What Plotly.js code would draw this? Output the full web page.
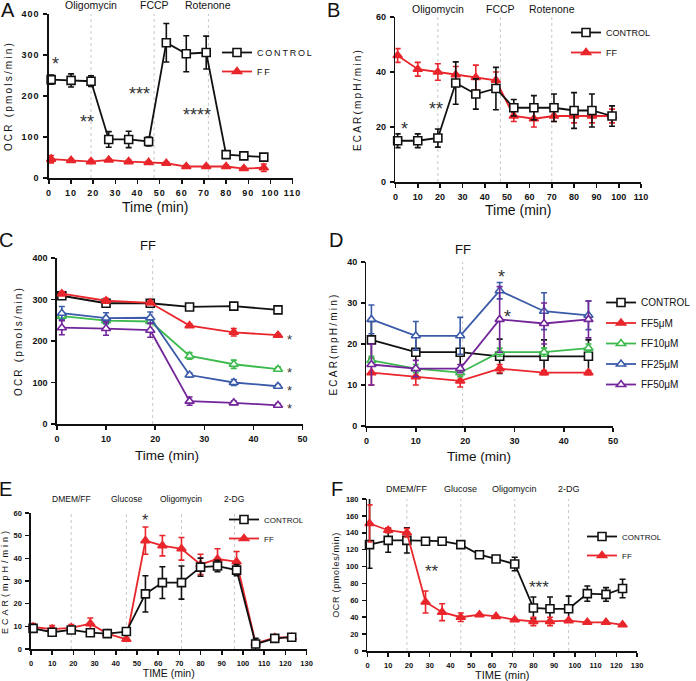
<!DOCTYPE html>
<html><head><meta charset="utf-8">
<script src="https://cdn.plot.ly/plotly-3.0.1.min.js"></script>
<style>
body{margin:0;padding:0;background:#fff}
#chart{width:696px;height:681px}
.subplot .xtick text, .subplot .ytick text{letter-spacing:1px}
.ytitle,.y2title,.y3title,.y4title{letter-spacing:2.2px}
.y5title{letter-spacing:3px}
.y6title{letter-spacing:0.7px}
.legend .legendtext,.legend2 .legendtext{letter-spacing:1.8px}
.legend4 .legendtext{letter-spacing:1px}
.infolayer g, .infolayer g *{clip-path:none !important}
</style></head>
<body><div id="chart"></div>
<script>
// ---------- DATA ----------
// Panel A: OCR mito stress
const timeA = [1,10,19,27,36,45,53,62,71,80,88,97];
const ocrA_ctrl = [240,238,236,94,94,89,330,303,306,57,54,51];
const ocrA_ctrl_err = [11,16,13,19,20,11,47,44,40,8,3,4];
const ocrA_ff = [46,43,40,44,40,38,36,28,28,28,23,25];
const ocrA_ff_err = [9,3,3,3,3,3,3,3,3,3,3,9];
const injA = [19,47.5,72];
const drugsA = ['Oligomycin','FCCP','Rotenone'];
// Panel B: ECAR mito stress
const timeB = [1,10,19,27,36,45,53,62,71,80,88,97];
const ecarB_ctrl = [15,15,16,36,32,34,27,27,27,26,26,24];
const ecarB_ctrl_err = [2.5,2.5,3.3,7.7,5.5,7.7,3,4.4,5,6.5,6,3.7];
const ecarB_ff = [46,41,40,39,38,37,24,23,24,24,24,24];
const ecarB_ff_err = [2.5,2.5,3,3,4.5,3,2,3,2,2.5,2.5,2.5];
const injB = [19,47,70];
// Panel C: OCR dose response
const timeC = [1,10,19,27,36,45];
const ocrC_ctrl = [309,291,291,282,284,275];
const ocrC_ctrl_err = [5,5,5,5,5,5];
const ocrC_ff5 = [314,297,292,237,221,214];
const ocrC_ff5_err = [5,6,4,4,9,3];
const ocrC_ff10 = [260,249,247,164,144,132];
const ocrC_ff10_err = [8,8,5,8,10,5];
const ocrC_ff25 = [267,255,256,118,100,91];
const ocrC_ff25_err = [16,13,14,5,7,4];
const ocrC_ff50 = [232,230,226,55,51,45];
const ocrC_ff50_err = [17,16,17,10,4,4];
const injC = [19.5];
// Panel D: ECAR dose response
const timeD = [1,10,19,27,36,45];
const ecarD_ctrl = [21,18,18,17,17,17];
const ecarD_ctrl_err = [4.5,4,4,4.2,4,4];
const ecarD_ff5 = [13,12,11,14,13,13];
const ecarD_ff5_err = [3,2,1.5,1,0.5,0.5];
const ecarD_ff10 = [16,14,13,18,18,19];
const ecarD_ff10_err = [1,1,1,1,1,1];
const ecarD_ff25 = [26,22,22,33,28,27];
const ecarD_ff25_err = [3.5,3.5,4.5,2,4.5,3.5];
const ecarD_ff50 = [15,14,14,26,25,26];
const ecarD_ff50_err = [5,2,1,8,5,4.5];
const injD = [19.5];
const doseNames = ['CONTROL','FF5μM','FF10μM','FF25μM','FF50μM'];
// Panel E: ECAR glycolysis stress
const timeE = [1,10,19,28,36,45,54,62,71,80,88,97,106,115,123];
const ecarE_ctrl = [9.1,7.4,8.4,7.2,6.8,7.7,24.3,29.3,29.3,36.1,36.6,34.8,2.2,4.7,5.2];
const ecarE_ctrl_err = [1.5,1,1,1,0.5,1,8,7,7.3,4,2.5,2.5,2.5,0.5,0.5];
const ecarE_ff = [9.7,8.8,9.3,11.2,6.8,4.3,47.8,45.6,44.2,37.3,39.7,38.5,2.5,5,5.2];
const ecarE_ff_err = [1.5,1.5,1.5,2.5,0.5,0.5,6,4.5,5,4.5,4.5,4.5,1,0.5,0.5];
const injE = [19,45,71,96];
const drugsE = ['DMEM/FF','Glucose','Oligomycin','2-DG'];
// Panel F: OCR glycolysis stress
const timeF = [1,10,19,28,36,45,54,62,71,80,88,97,106,115,123];
const ocrF_ctrl = [126,131,131,130,130,126,114,109,103,51,50,50,68,67,74];
const ocrF_ctrl_errPlus = [62,14,15,2,2,4,2,2,8,13,14,15,9,8,11];
const ocrF_ctrl_errMinus = [28,14,15,2,2,4,2,2,8,13,14,15,9,8,11];
const ocrF_ff = [151,143,140,58,46,40,43,41,37,35,35,36,34,34,31];
const ocrF_ff_err = [22,3,5,13,10,5,1,1,1,5,5,1,1,1,1];
const injF = [19,45,71,97];

// ---------- STYLE ----------
const FONT = 'Liberation Sans, Arial, sans-serif';
const BLACK = '#111111', RED = '#e8262b', GREEN = '#3dba4e', BLUE = '#3b5ba9', PURPLE = '#73269a';
const W = 696, H = 681;
const px = x => x / W, py = y => 1 - y / H;

function tr(x, y, err, name, color, symbol, open, xa, ya, legend, show, rank, errMinus) {
  const e = {type:'data', array: err, color: color, thickness: 1.6, width: 3, visible: true};
  if (errMinus) { e.symmetric = false; e.arrayminus = errMinus; }
  return {
    type: 'scatter', mode: 'lines+markers', x: x, y: y, name: name,
    xaxis: xa, yaxis: ya, legend: legend, showlegend: show, legendgroup: name + xa, legendrank: rank,
    line: {color: color, width: 1.8},
    marker: {symbol: symbol, size: 8, color: open ? 'white' : color,
             line: {color: color, width: 1.6}},
    error_y: e, cliponaxis: false
  };
}

const data = [
  tr(timeA, ocrA_ctrl, ocrA_ctrl_err, 'CONTROL', BLACK, 'square', true, 'x', 'y', 'legend', true, 1),
  tr(timeA, ocrA_ff, ocrA_ff_err, 'FF', RED, 'triangle-up', false, 'x', 'y', 'legend', true, 2),
  tr(timeB, ecarB_ff, ecarB_ff_err, 'FF', RED, 'triangle-up', false, 'x2', 'y2', 'legend2', true, 2),
  tr(timeB, ecarB_ctrl, ecarB_ctrl_err, 'CONTROL', BLACK, 'square', true, 'x2', 'y2', 'legend2', true, 1),
  tr(timeC, ocrC_ctrl, ocrC_ctrl_err, doseNames[0], BLACK, 'square', true, 'x3', 'y3', 'legend', false, 10),
  tr(timeC, ocrC_ff5, ocrC_ff5_err, doseNames[1], RED, 'triangle-up', false, 'x3', 'y3', 'legend', false, 11),
  tr(timeC, ocrC_ff10, ocrC_ff10_err, doseNames[2], GREEN, 'triangle-up', true, 'x3', 'y3', 'legend', false, 12),
  tr(timeC, ocrC_ff25, ocrC_ff25_err, doseNames[3], BLUE, 'triangle-up', true, 'x3', 'y3', 'legend', false, 13),
  tr(timeC, ocrC_ff50, ocrC_ff50_err, doseNames[4], PURPLE, 'triangle-up', true, 'x3', 'y3', 'legend', false, 14),
  tr(timeD, ecarD_ctrl, ecarD_ctrl_err, doseNames[0], BLACK, 'square', true, 'x4', 'y4', 'legend3', true, 1),
  tr(timeD, ecarD_ff5, ecarD_ff5_err, doseNames[1], RED, 'triangle-up', false, 'x4', 'y4', 'legend3', true, 2),
  tr(timeD, ecarD_ff10, ecarD_ff10_err, doseNames[2], GREEN, 'triangle-up', true, 'x4', 'y4', 'legend3', true, 3),
  tr(timeD, ecarD_ff25, ecarD_ff25_err, doseNames[3], BLUE, 'triangle-up', true, 'x4', 'y4', 'legend3', true, 4),
  tr(timeD, ecarD_ff50, ecarD_ff50_err, doseNames[4], PURPLE, 'triangle-up', true, 'x4', 'y4', 'legend3', true, 5),
  tr(timeE, ecarE_ff, ecarE_ff_err, 'FF', RED, 'triangle-up', false, 'x5', 'y5', 'legend4', true, 2),
  tr(timeE, ecarE_ctrl, ecarE_ctrl_err, 'CONTROL', BLACK, 'square', true, 'x5', 'y5', 'legend4', true, 1),
  tr(timeF, ocrF_ctrl, ocrF_ctrl_errPlus, 'CONTROL', BLACK, 'square', true, 'x6', 'y6', 'legend5', true, 1, ocrF_ctrl_errMinus),
  tr(timeF, ocrF_ff, ocrF_ff_err, 'FF', RED, 'triangle-up', false, 'x6', 'y6', 'legend5', true, 2)
];

function axis(dom, range, dtick, anchor, fs, title, tfs, standoff) {
  const a = {
    domain: dom, range: range, dtick: dtick, tick0: 0, anchor: anchor,
    showline: true, linecolor: BLACK, linewidth: 1.5, mirror: false,
    ticks: 'outside', ticklen: 4, tickwidth: 1.5, tickcolor: BLACK,
    showgrid: false, zeroline: false, automargin: false, fixedrange: true,
    ticklabelstandoff: 2,
    tickfont: {family: FONT, size: fs, color: BLACK, weight: 'bold'}
  };
  if (title) a.title = {text: title, font: {family: FONT, size: tfs, color: BLACK}, standoff: standoff};
  return a;
}

const LEG = (x, y, fs, gap) => ({x: px(x), y: py(y), xanchor: 'left', yanchor: 'top',
  bgcolor: 'rgba(0,0,0,0)', font: {family: FONT, size: fs, color: BLACK}, tracegroupgap: gap});

const layout = {
  width: W, height: H, margin: {l: 0, r: 0, t: 0, b: 0},
  paper_bgcolor: 'white', plot_bgcolor: 'white', showlegend: true,
  font: {family: FONT, color: BLACK},
  xaxis:  axis([px(49), px(293)], [0,110], 10, 'y', 9, null),
  yaxis:  axis([py(178), py(14)], [0,400], 100, 'x', 9, 'OCR (pmols/min)', 10, 10),
  xaxis2: axis([px(396), px(642)], [0,110], 10, 'y2', 9, 'Time (min)', 14, 4),
  yaxis2: axis([py(182), py(17)], [0,60], 20, 'x2', 9, 'ECAR(mpH/min)', 10, 12),
  xaxis3: axis([px(57), px(303)], [0,50], 10, 'y3', 9, null),
  yaxis3: axis([py(424), py(258)], [0,400], 100, 'x3', 9, 'OCR (pmols/min)', 10, 8),
  xaxis4: axis([px(367), px(614)], [0,50], 10, 'y4', 9, null),
  yaxis4: axis([py(426), py(262)], [0,40], 10, 'x4', 9, 'ECAR(mpH/min)', 10, 7),
  xaxis5: axis([px(31), px(307)], [0,130], 10, 'y5', 7.5, 'TIME (min)', 10.5, 3),
  yaxis5: axis([py(649), py(513)], [0,60], 10, 'x5', 7.5, 'ECAR(mpH/min)', 9, 6),
  xaxis6: axis([px(368), px(638)], [0,130], 10, 'y6', 7.5, 'TIME (min)', 11, 3),
  yaxis6: axis([py(651), py(499)], [0,180], 20, 'x6', 7.5, 'OCR (pmoles/min)', 9, 5),
  legend:  LEG(217, 38, 9, 0),
  legend2: LEG(566, 18, 9, 1),
  legend3: LEG(602, 288, 10, 1.5),
  legend4: LEG(224, 505, 8, 0),
  legend5: LEG(582, 522, 8, 0),
  shapes: [], annotations: []
};

function vlines(xs, xref) {
  xs.forEach(v => layout.shapes.push({type: 'line', xref: xref, yref: xref.replace('x','y') + ' domain',
    x0: v, x1: v, y0: 0, y1: 1, line: {color: '#c8c8c8', width: 1, dash: 'dot'}, layer: 'below'}));
}
vlines(injA, 'x'); vlines(injB, 'x2'); vlines(injC, 'x3'); vlines(injD, 'x4'); vlines(injE, 'x5'); vlines(injF, 'x6');

function txt(text, x, y, xref, yref, size, extra) {
  layout.annotations.push(Object.assign({text: text, x: x, y: y, xref: xref, yref: yref,
    showarrow: false, xanchor: 'center', yanchor: 'middle',
    font: {family: FONT, size: size, color: BLACK}}, extra || {}));
}
// panel letters
[['A',8.5,10],['B',334,10],['C',6.5,240],['D',336,240],['E',6,489],['F',337,489]]
  .forEach(l => txt(l[0], px(l[1]), py(l[2]), 'paper', 'paper', 20));
// drug labels
drugsA.forEach((d,i) => txt(d, injA[i], py(5.5), 'x', 'paper', 10.5));
drugsA.forEach((d,i) => txt(d, injB[i], py(9), 'x2', 'paper', 10.5));
txt('FF', injC[0] - 0.9, py(246), 'x3', 'paper', 13);
txt('FF', injD[0], py(250), 'x4', 'paper', 13);
drugsE.forEach((d,i) => txt(d, injE[i], py(499), 'x5', 'paper', 8.5));
drugsE.forEach((d,i) => txt(d, injF[i], py(489), 'x6', 'paper', 9));
// x titles for A, C, D
txt('Time (min)', px(155), py(207), 'paper', 'paper', 14);
txt('Time (min)', px(167), py(455), 'paper', 'paper', 13.5);
txt('Time (min)', px(480), py(456), 'paper', 'paper', 13.5);
// significance stars
const STAR = sz => ({font: {family: FONT, size: sz, color: '#333'}, yshift: -sz * 0.25});
[['*',3,288],['**',17,147],['***',41,216],['****',67,165]].forEach(s => txt(s[0], s[1], s[2], 'x', 'y', 18, STAR(18)));
[['*',3.9,21],['**',18.3,28]].forEach(s => txt(s[0], s[1], s[2], 'x2', 'y2', 18, STAR(18)));
[212,133,88,45].forEach(v => txt('*', 47.4, v, 'x3', 'y3', 13, STAR(13)));
[['*',27.3,37.4],['*',28.5,27.6]].forEach(s => txt(s[0], s[1], s[2], 'x4', 'y4', 18, STAR(18)));
txt('*', 53.9, 58.5, 'x5', 'y5', 16, STAR(16));
[['**',31.3,99],['***',82.6,80]].forEach(s => txt(s[0], s[1], s[2], 'x6', 'y6', 17, STAR(17)));

Plotly.newPlot('chart', data, layout, {staticPlot: true, displayModeBar: false});
</script></body></html>
